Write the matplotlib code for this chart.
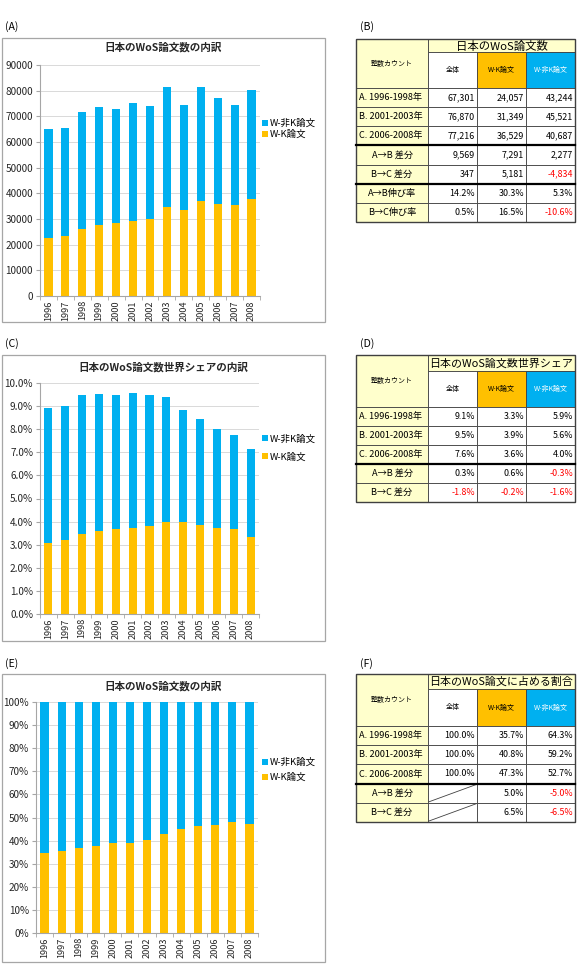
import numpy as np
import matplotlib.pyplot as plt
from matplotlib.patches import Rectangle
from matplotlib.ticker import FuncFormatter

plt.rcParams['font.family'] = ['Noto Sans CJK JP', 'DejaVu Sans']

W, H = 583, 969

years = ['1996', '1997', '1998', '1999', '2000', '2001', '2002',
         '2003', '2004', '2005', '2006', '2007', '2008']

# (A) paper counts
wk_count = [22500, 23400, 26100, 27600, 28400, 29300, 29900,
            34800, 33400, 37200, 35800, 35600, 37800]
nonwk_count = [42500, 42000, 45600, 46000, 44600, 46000, 44300,
               46600, 41000, 44200, 41300, 38900, 42500]

# (C) world share, %
wk_share = [3.09, 3.21, 3.45, 3.60, 3.68, 3.71, 3.82,
            4.00, 3.99, 3.87, 3.71, 3.70, 3.35]
nonwk_share = [5.83, 5.78, 6.02, 5.92, 5.81, 5.86, 5.65,
               5.39, 4.85, 4.58, 4.32, 4.06, 3.80]

# (E) breakdown, %
wk_ratio = [34.7, 35.6, 36.6, 37.8, 39.1, 39.1, 40.2,
            42.8, 45.0, 46.2, 46.7, 47.9, 47.3]
nonwk_ratio = [65.3, 64.4, 63.4, 62.2, 60.9, 60.9, 59.8,
               57.2, 55.0, 53.8, 53.3, 52.1, 52.7]

# tables
col_heads = ['全体', 'W-K論文', 'W-非K論文']
rows_b = ['A. 1996-1998年', 'B. 2001-2003年', 'C. 2006-2008年',
          'A→B 差分', 'B→C 差分', 'A→B伸び率', 'B→C伸び率']
b_total = ['67,301', '76,870', '77,216', '9,569', '347', '14.2%', '0.5%']
b_wk = ['24,057', '31,349', '36,529', '7,291', '5,181', '30.3%', '16.5%']
b_nonwk = ['43,244', '45,521', '40,687', '2,277', '-4,834', '5.3%', '-10.6%']

rows_d = ['A. 1996-1998年', 'B. 2001-2003年', 'C. 2006-2008年',
          'A→B 差分', 'B→C 差分']
d_total = ['9.1%', '9.5%', '7.6%', '0.3%', '-1.8%']
d_wk = ['3.3%', '3.9%', '3.6%', '0.6%', '-0.2%']
d_nonwk = ['5.9%', '5.6%', '4.0%', '-0.3%', '-1.6%']

f_total = ['100.0%', '100.0%', '100.0%', None, None]
f_wk = ['35.7%', '40.8%', '47.3%', '5.0%', '6.5%']
f_nonwk = ['64.3%', '59.2%', '52.7%', '-5.0%', '-6.5%']

ORANGE = '#FFC000'
BLUE = '#00B0F0'
YELLOW = '#FFFFCC'
GRAY = '#A6A6A6'

fig = plt.figure(figsize=(W / 100, H / 100), dpi=100)
bg = fig.add_axes([0, 0, 1, 1])
bg.set_xlim(0, W)
bg.set_ylim(H, 0)
bg.axis('off')


def rect(x0, y0, x1, y1):
    return [x0 / W, 1 - y1 / H, (x1 - x0) / W, (y1 - y0) / H]


def chart(frame, plot, title, title_y, wk, nonwk, ylim, yticks, fmt, leg_y, leg_sp):
    fx0, fy0, fx1, fy1 = frame
    bg.add_patch(Rectangle((fx0, fy0), fx1 - fx0, fy1 - fy0, fill=False, ec=GRAY, lw=0.9))
    bg.text((fx0 + fx1) / 2, title_y, title, ha='center', va='center',
            fontsize=7.6, fontweight='bold', color='#262626')
    ax = fig.add_axes(rect(*plot))
    x = np.arange(len(years))
    b1 = ax.bar(x, wk, 0.48, color=ORANGE, label='W-K論文', zorder=2)
    b2 = ax.bar(x, nonwk, 0.48, bottom=wk, color=BLUE, label='W-非K論文', zorder=2)
    ax.set_xlim(-0.5, len(years) - 0.5)
    ax.set_ylim(*ylim)
    ax.set_yticks(yticks)
    ax.yaxis.set_major_formatter(FuncFormatter(fmt))
    ax.grid(axis='y', color='#D9D9D9', lw=0.7)
    ax.set_axisbelow(True)
    for s in ['top', 'right']:
        ax.spines[s].set_visible(False)
    for s in ['left', 'bottom']:
        ax.spines[s].set_color(GRAY)
        ax.spines[s].set_linewidth(0.8)
    ax.set_xticks(x)
    ax.set_xticklabels(years, rotation=90, fontsize=6.6, color='#262626')
    ax.set_xticks(np.arange(-0.5, len(years), 1), minor=True)
    ax.tick_params(axis='x', which='major', length=0, pad=3)
    ax.tick_params(axis='x', which='minor', length=3, color=GRAY)
    ax.tick_params(axis='y', length=3, color=GRAY, labelsize=7.2, pad=2, labelcolor='#262626')
    ax.legend([b2, b1], ['W-非K論文', 'W-K論文'], loc='center left',
              bbox_to_anchor=(262, leg_y), bbox_transform=bg.transData,
              frameon=False, fontsize=6.8, handlelength=0.6, handleheight=0.6,
              handletextpad=0.2, labelspacing=leg_sp, borderaxespad=0, borderpad=0)
    return ax


chart((2, 38, 325, 322), (40, 65, 260, 296), '日本のWoS論文数の内訳', 47,
      wk_count, nonwk_count, (0, 90000), np.arange(0, 90001, 10000),
      lambda v, p: '%d' % v, 129, 0.15)
chart((2, 355, 325, 641), (40, 383, 259, 614), '日本のWoS論文数世界シェアの内訳', 367,
      wk_share, nonwk_share, (0, 10), np.arange(0, 10.01, 1),
      lambda v, p: '%.1f%%' % v, 448, 0.9)
chart((2, 674, 325, 962), (36, 702, 258, 933), '日本のWoS論文数の内訳', 686,
      wk_ratio, nonwk_ratio, (0, 100), np.arange(0, 101, 10),
      lambda v, p: '%d%%' % v, 770, 0.6)

for lab, x, y in [('(A)', 5, 27), ('(B)', 360, 27), ('(C)', 5, 344),
                  ('(D)', 360, 344), ('(E)', 5, 664), ('(F)', 360, 664)]:
    bg.text(x, y, lab, ha='left', va='center', fontsize=7.6)


def cell(x0, y0, x1, y1, fc):
    bg.add_patch(Rectangle((x0, y0), x1 - x0, y1 - y0, fc=fc, ec='#404040', lw=0.6))


def table(top, title_b, head_b, row_h, title, labels, cols, thick, title_fs=8.2):
    xs = [356, 428, 477, 526, 575]
    cell(xs[0], top, xs[1], head_b, YELLOW)
    bg.text((xs[0] + xs[1]) / 2, (top + head_b) / 2, '整数カウント', ha='center',
            va='center', fontsize=5)
    cell(xs[1], top, xs[4], title_b, YELLOW)
    bg.text((xs[1] + xs[4]) / 2, (top + title_b) / 2 + 0.5, title, ha='center',
            va='center', fontsize=title_fs)
    for j, (h, fc, tc) in enumerate(zip(col_heads, ['white', ORANGE, BLUE],
                                        ['black', 'black', 'white'])):
        cell(xs[j + 1], title_b, xs[j + 2], head_b, fc)
        bg.text((xs[j + 1] + xs[j + 2]) / 2, (title_b + head_b) / 2, h,
                ha='center', va='center', fontsize=5, color=tc)
    for i, lab in enumerate(labels):
        y0 = head_b + i * row_h
        y1 = y0 + row_h
        cell(xs[0], y0, xs[1], y1, YELLOW)
        if lab[1] == '.':
            bg.text(xs[0] + 3, (y0 + y1) / 2, lab, ha='left', va='center', fontsize=6.6)
        else:
            bg.text((xs[0] + xs[1]) / 2, (y0 + y1) / 2, lab, ha='center',
                    va='center', fontsize=6.6)
        for j, col in enumerate(cols):
            cell(xs[j + 1], y0, xs[j + 2], y1, 'white')
            val = col[i]
            if val is None:
                bg.plot([xs[j + 1] + 1, xs[j + 2] - 1], [y1 - 1, y0 + 1],
                        color='#404040', lw=0.6)
                continue
            c = 'red' if val.startswith('-') else 'black'
            bg.text(xs[j + 2] - 2, (y0 + y1) / 2, val, ha='right', va='center',
                    fontsize=6.4, color=c)
    for k in thick:
        y = head_b + k * row_h
        bg.plot([xs[0], xs[4]], [y, y], color='black', lw=1.6)
    bottom = head_b + len(labels) * row_h
    bg.add_patch(Rectangle((xs[0], top), xs[4] - xs[0], bottom - top, fill=False,
                           ec='#404040', lw=1.0))


table(39, 52, 88, 19.15, '日本のWoS論文数', rows_b, [b_total, b_wk, b_nonwk], [3, 5])
table(355, 371, 407, 19.0, '日本のWoS論文数世界シェア', rows_d, [d_total, d_wk, d_nonwk],
      [3], title_fs=7.9)
table(674, 689, 726, 19.2, '日本のWoS論文に占める割合', rows_d, [f_total, f_wk, f_nonwk],
      [3], title_fs=7.9)

fig.savefig('out.png', dpi=100)
